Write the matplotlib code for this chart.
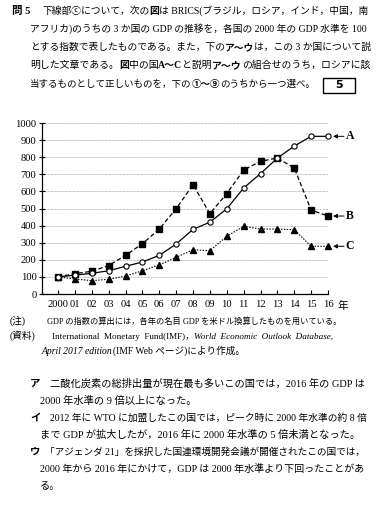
import matplotlib.pyplot as plt
from matplotlib.patches import Rectangle
import numpy as np

# ---- data ------------------------------------------------------------------
years = ['2000', '01', '02', '03', '04', '05', '06', '07', '08',
         '09', '10', '11', '12', '13', '14', '15', '16']
country_a = [100, 110, 121, 136, 162, 187, 226, 292, 378, 420, 498, 620, 704, 795, 865, 922, 922]
country_b = [100, 119, 133, 166, 226, 294, 380, 499, 639, 470, 587, 725, 776, 795, 737, 491, 456]
country_c = [100, 88, 78, 86, 105, 136, 170, 214, 259, 253, 337, 396, 380, 380, 376, 279, 279]
series_names = ['A', 'B', 'C']
y_ticks = list(range(0, 1001, 100))

# ---- figure ----------------------------------------------------------------
W, H = 378, 511
plt.rcParams['font.family'] = ['Liberation Serif', 'Noto Sans CJK JP']
fig = plt.figure(figsize=(W / 100, H / 100), dpi=100)
renderer = fig.canvas.get_renderer()


def put(segs, x0, y, x1=None, size=7.3):
    """Write one line of text from pixel x0 at baseline y; stretch to x1 if given."""
    for attempt in range(2):
        x, objs = x0, []
        for s, st in segs:
            t = fig.text(x / W, 1 - y / H, s, fontsize=size, va='baseline', ha='left',
                         fontweight='bold' if 'b' in st else 'normal',
                         fontstyle='italic' if 'i' in st else 'normal')
            objs.append(t)
            x += t.get_window_extent(renderer).width
        if x1 is None or attempt == 1:
            return size
        for t in objs:
            t.remove()
        size *= (x1 - x0) / (x - x0)
    return size


# ---- question text ---------------------------------------------------------
put([('問 5', 'b')], 12, 14, size=7.6)
s = put([('下線部ⓒについて，次の', ''), ('図', 'b'),
         ('は BRICS(ブラジル，ロシア，インド，中国，南', '')], 42, 14, 370)
put([('アフリカ)のうちの 3 か国の GDP の推移を，各国の 2000 年の GDP 水準を 100', '')], 30, 32, 365)
put([('とする指数で表したものである。また，下の', ''), ('ア～ウ', 'b'),
     ('は，この 3 か国について説', '')], 30, 50, 370)
put([('明した文章である。', ''), ('図', 'b'), ('中の国', ''), ('A～C', 'b'), ('と説明', ''),
     ('ア～ウ', 'b'), ('の組合せのうち，ロシアに該', '')], 30, 68, 370)
put([('当するものとして正しいものを，下の', ''), ('①～⑨', 'b'),
     ('のうちから一つ選べ。', '')], 30, 87, 316)
fig.patches.append(Rectangle((323 / W, 1 - 93 / H), 32 / W, 15 / H,
                             transform=fig.transFigure, fill=False, lw=1.0, ec='k'))
fig.text(339 / W, 1 - 85.5 / H, '5', fontsize=8, fontweight='bold',
         family='DejaVu Sans', ha='center', va='center')

# ---- chart -----------------------------------------------------------------
ax = fig.add_axes([42 / W, 1 - 294 / H, (328 - 42) / W, (294 - 123) / H])
x = np.arange(len(years))
ax.plot(x, country_c, ls=(0, (1.3, 1.3)), lw=0.8, color='k', marker='^', ms=4.2,
        mfc='k', mec='k', clip_on=False, zorder=3)
ax.plot(x, country_b, ls=(0, (3.5, 2)), lw=0.9, color='k', marker='s', ms=4,
        mfc='k', mec='k', clip_on=False, zorder=4)
ax.plot(x, country_a, ls='-', lw=0.9, color='k', marker='o', ms=3.8,
        mfc='white', mec='k', mew=0.8, clip_on=False, zorder=5)

ax.set_xlim(-0.95, 16)
ax.set_ylim(0, 1000)
ax.set_yticks(y_ticks)
ax.set_xticks(x, years)
for v in y_ticks[1:]:
    ax.axhline(v, ls=(0, (1, 1)), lw=0.5, color='#8a8a8a', zorder=1)
for side in ('top', 'right'):
    ax.spines[side].set_visible(False)
for side in ('left', 'bottom'):
    ax.spines[side].set_linewidth(0.9)
ax.tick_params(axis='y', direction='inout', length=5, width=0.8, labelsize=7.6, pad=1.5)
ax.tick_params(axis='x', direction='in', length=3, width=0.8, labelsize=7.6, pad=4)
fig.text(337 / W, 1 - 309 / H, '年', fontsize=7.6, va='baseline')

last = [country_a[-1], country_b[-1], country_c[-1]]
for name, v in zip(series_names, last):
    ax.annotate('', xy=(16.3, v), xytext=(16.95, v), annotation_clip=False,
                arrowprops=dict(arrowstyle='-|>', lw=0.7, color='k', mutation_scale=6,
                                shrinkA=0, shrinkB=0))
    ax.text(17.05, v, name, fontsize=8.5, fontweight='bold', va='center', clip_on=False)

# ---- notes -----------------------------------------------------------------
put([('(注)', '')], 10, 324, size=7)
put([('GDP の指数の算出には，各年の名目 GDP を米ドル換算したものを用いている。', '')], 47, 324, 340)
put([('(資料)', '')], 10, 339, size=7)
put([('International  Monetary  Fund(IMF)，', ''),
     ('World  Economic  Outlook  Database,', 'i')], 52, 339, 332)
put([('April 2017 edition', 'i'), ('(IMF Web ページ)により作成。', '')], 42, 354, size=6.9)

# ---- statements ------------------------------------------------------------
put([('ア', 'b')], 30, 387, size=7.5)
s = put([('二酸化炭素の総排出量が現在最も多いこの国では，2016 年の GDP は', '')], 50, 387, 365)
put([('2000 年水準の 9 倍以上になった。', '')], 40, 404, size=s)
put([('イ', 'b')], 30, 421, size=7.5)
put([('2012 年に WTO に加盟したこの国では，ピーク時に 2000 年水準の約 8 倍', '')], 50, 421, 365)
put([('まで GDP が拡大したが，2016 年に 2000 年水準の 5 倍未満となった。', '')], 40, 438, size=s)
put([('ウ', 'b')], 30, 455, size=7.5)
put([('「アジェンダ 21」を採択した国連環境開発会議が開催されたこの国では，', '')], 45, 455, 365)
put([('2000 年から 2016 年にかけて，GDP は 2000 年水準より下回ったことがあ', '')], 40, 472, 365)
put([('る。', '')], 40, 489, size=s)

fig.savefig('out.png', dpi=100)
